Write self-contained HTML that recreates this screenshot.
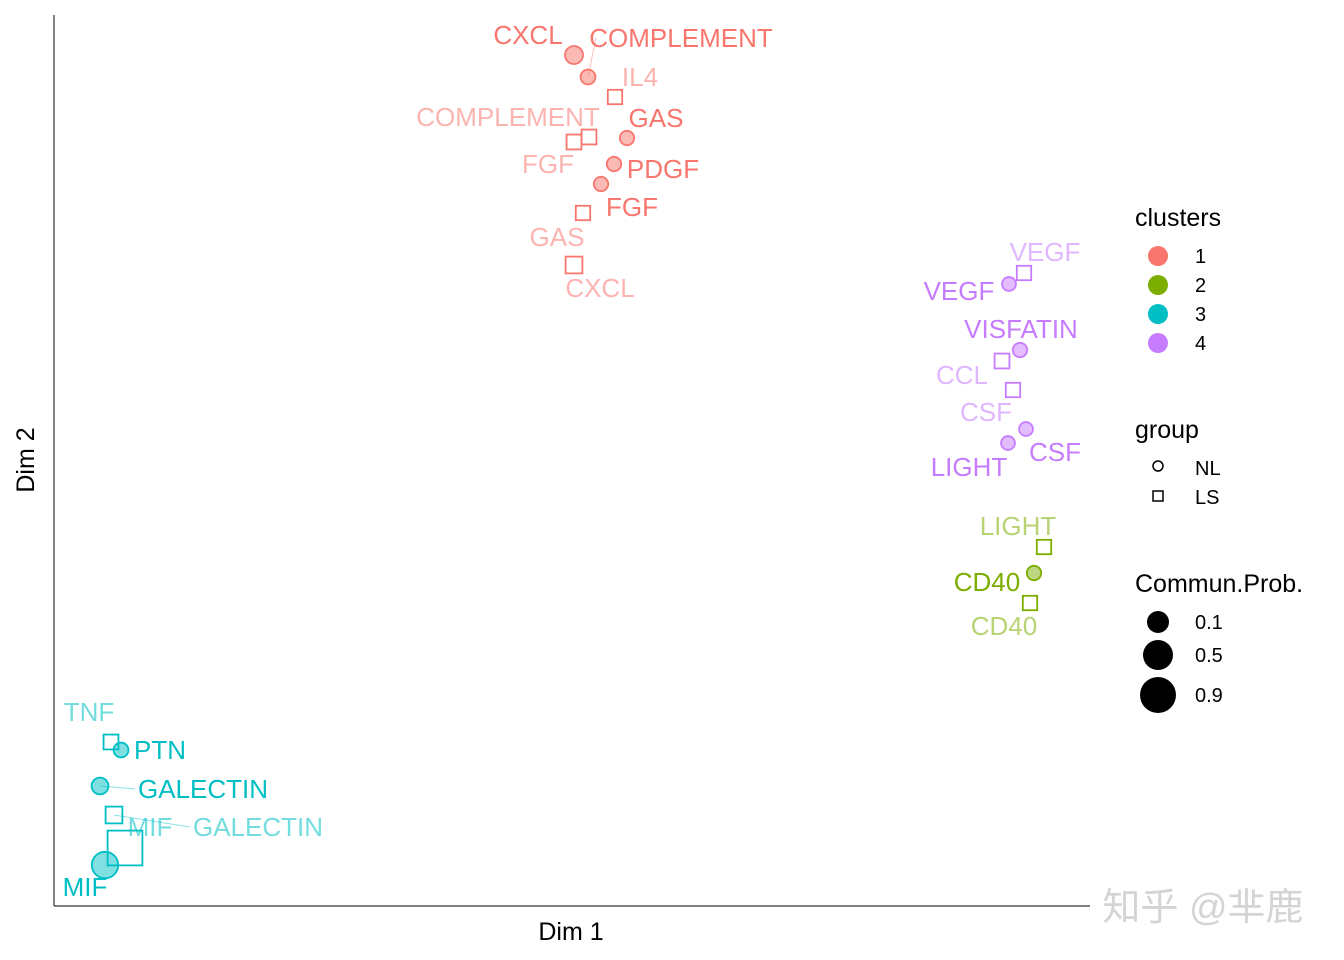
<!DOCTYPE html>
<html><head><meta charset="utf-8"><style>
body{margin:0;background:#fff;}
svg{display:block;font-family:"Liberation Sans",Arial,sans-serif;}
</style></head><body>
<svg id="chart" width="1344" height="960">
<g id="plot"></g>
<line x1="54" y1="15" x2="54" y2="906" stroke="#333" stroke-width="1.2"/>
<line x1="54" y1="906" x2="1090" y2="906" stroke="#333" stroke-width="1.2"/>
<text x="571" y="940" font-size="25" text-anchor="middle">Dim 1</text>
<text transform="translate(34,460) rotate(-90)" font-size="25" text-anchor="middle">Dim 2</text>
<g>
<text x="1135" y="226" font-size="25">clusters</text>
<circle cx="1158" cy="256" r="10" fill="#F8766D"/><text x="1195" y="263" font-size="20">1</text>
<circle cx="1158" cy="285" r="10" fill="#7CAE00"/><text x="1195" y="292" font-size="20">2</text>
<circle cx="1158" cy="314" r="10" fill="#00BFC4"/><text x="1195" y="321" font-size="20">3</text>
<circle cx="1158" cy="343" r="10" fill="#C77CFF"/><text x="1195" y="350" font-size="20">4</text>
</g>
<g>
<text x="1135" y="438" font-size="25">group</text>
<circle cx="1158" cy="466" r="5" fill="none" stroke="#000" stroke-width="1.5"/><text x="1195" y="475" font-size="20">NL</text>
<rect x="1153" y="491" width="10" height="10" fill="none" stroke="#000" stroke-width="1.5"/><text x="1195" y="504" font-size="20">LS</text>
</g>
<g>
<text x="1135" y="592" font-size="25">Commun.Prob.</text>
<circle cx="1158" cy="622" r="11" fill="#000"/><text x="1195" y="629" font-size="20">0.1</text>
<circle cx="1158" cy="655" r="15" fill="#000"/><text x="1195" y="662" font-size="20">0.5</text>
<circle cx="1158" cy="695" r="18" fill="#000"/><text x="1195" y="702" font-size="20">0.9</text>
</g>
<text x="1203" y="920" font-size="38" fill="#d4d4d4" text-anchor="middle" font-family="'Liberation Sans','Noto Sans CJK SC',sans-serif">知乎 @芈鹿</text>
</svg>
<script>
const labels=["CXCL","COMPLEMENT","IL4","GAS","COMPLEMENT","FGF","PDGF","FGF","GAS","CXCL","VEGF","VEGF","VISFATIN","CCL","CSF","CSF","LIGHT","LIGHT","CD40","CD40","TNF","PTN","GALECTIN","GALECTIN","MIF","MIF"];
const groups=["NL","NL","LS","NL","LS","LS","NL","NL","LS","LS","LS","NL","NL","LS","LS","NL","NL","LS","NL","LS","LS","NL","NL","LS","LS","NL"];
const clusters=[1,1,1,1,1,1,1,1,1,1,4,4,4,4,4,4,4,2,2,2,3,3,3,3,3,3];
const dim1=[520,534,561,573,535,520,560,547,529,520,970,955,966,948,959,972,954,990,980,976,57,67,46,60,71,51];
const dim2=[851,829,809,768,769,764,742,722,693,641,633,622,556,545,516,477,463,359,333,303,164,156,120,91,58,41];
const prob=[0.25,0.12,0.1,0.1,0.12,0.12,0.1,0.1,0.1,0.2,0.1,0.08,0.1,0.12,0.1,0.08,0.08,0.1,0.1,0.1,0.12,0.12,0.2,0.2,0.95,0.6];
const labelDim1=[474,627,586,602,454,494,609,578,503,546,991,905,967,908,932,1001,915,964,933,950,35,106,149,204,96,31];
const labelDim2=[871,868,829,788,789,742,737,699,669,618,654,615,577,531,494,454,439,380,324,280,194,156,117,79,79,19];
const colors={1:"#F8766D",2:"#7CAE00",3:"#00BFC4",4:"#C77CFF"};
const X=v=>54+v, Y=v=>906-v;
const g=document.getElementById('plot'), NS="http://www.w3.org/2000/svg";
function sz(p){return 12+p*24;}
for(let i=0;i<labels.length;i++){
  const c=colors[clusters[i]], px=X(dim1[i]), py=Y(dim2[i]), s=sz(prob[i]);
  const lx=X(labelDim1[i]), ly=Y(labelDim2[i]);
  const d=Math.hypot(lx-px,ly-py);
  const hw=labels[i].length*8.5;
  if(d>90){const ln=document.createElementNS(NS,'line');
    
    
    ln.setAttribute('x1',px);ln.setAttribute('y1',py);
    ln.setAttribute('x2',lx+(px<lx?-hw:hw));ln.setAttribute('y2',ly);
    ln.setAttribute('stroke',c);ln.setAttribute('stroke-opacity','0.45');g.appendChild(ln);}
  let m;
  if(groups[i]==="NL"){m=document.createElementNS(NS,'circle');
    m.setAttribute('cx',px);m.setAttribute('cy',py);m.setAttribute('r',s/2);
    m.setAttribute('fill',c);m.setAttribute('fill-opacity','0.5');}
  else{m=document.createElementNS(NS,'rect');const w=s;
    m.setAttribute('x',px-w/2);m.setAttribute('y',py-w/2);m.setAttribute('width',w);m.setAttribute('height',w);
    m.setAttribute('fill','none');}
  
  
  m.setAttribute('stroke',c);m.setAttribute('stroke-width','1.8');g.appendChild(m);
  const t=document.createElementNS(NS,'text');
  
  
  t.setAttribute('x',lx);t.setAttribute('y',ly+9);t.setAttribute('text-anchor','middle');
  t.setAttribute('font-size','26');t.setAttribute('fill',c);
  t.setAttribute('fill-opacity',groups[i]==="NL"?'1':'0.55');
  t.textContent=labels[i];g.appendChild(t);
}
</script>
</body></html>
